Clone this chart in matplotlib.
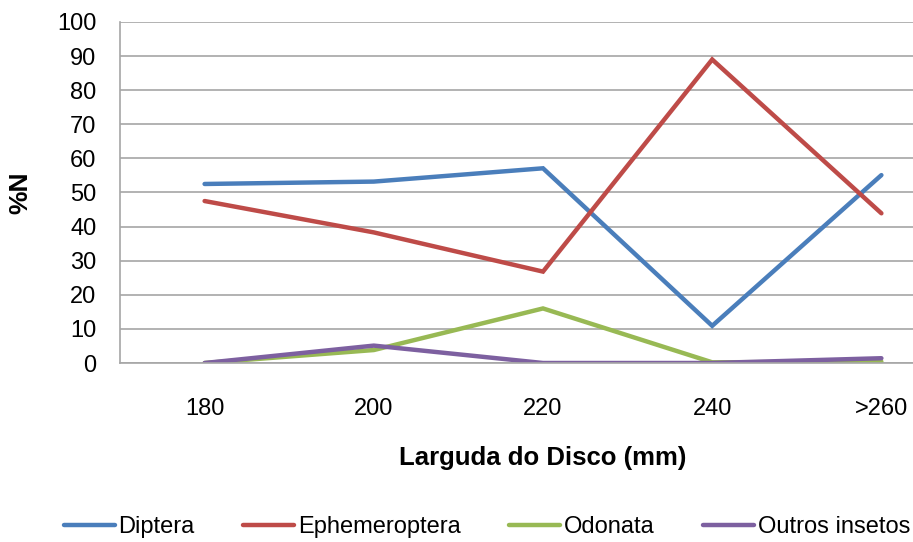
import numpy as np
import matplotlib.pyplot as plt

plt.rcParams['font.family'] = ['Liberation Sans', 'DejaVu Sans']

categorias = ['180', '200', '220', '240', '>260']
diptera = [52.5, 53.2, 57.1, 10.9, 55.1]
ephemeroptera = [47.5, 38.3, 26.8, 89.0, 43.9]
odonata = [0.0, 3.8, 16.0, 0.2, 0.4]
outros = [0.0, 5.1, 0.0, 0.0, 1.4]

series = [
    ('Diptera', diptera, '#4A7EBB'),
    ('Ephemeroptera', ephemeroptera, '#BE4B48'),
    ('Odonata', odonata, '#98B954'),
    ('Outros insetos', outros, '#7D60A0'),
]

fig = plt.figure(figsize=(9.13, 5.42), dpi=100)
# a área do gráfico passa da borda direita da figura
ax = fig.add_axes([120 / 913, 179 / 542, 846 / 913, 341 / 542])

x = np.arange(len(categorias))
for nome, valores, cor in series:
    ax.plot(x, valores, color=cor, linewidth=3.2, label=nome,
            solid_capstyle='round', solid_joinstyle='miter')

ax.set_xlim(-0.5, len(categorias) - 0.5)
ax.set_ylim(0, 100)
ax.set_yticks(np.arange(0, 101, 10))
ax.set_xticks(x)
ax.set_xticklabels(categorias)
ax.yaxis.grid(True, color='#A6A6A6', linewidth=1.2)
ax.set_axisbelow(True)

for lado in ['top', 'right']:
    ax.spines[lado].set_visible(False)
for lado in ['left', 'bottom']:
    ax.spines[lado].set_color('#A6A6A6')
    ax.spines[lado].set_linewidth(1.2)

ax.tick_params(axis='y', length=0, pad=17, labelsize=17, colors='#000000')
ax.tick_params(axis='x', length=0, pad=25, labelsize=17)

ax.set_ylabel('%N', fontsize=19, fontweight='bold')
ax.yaxis.set_label_coords(-0.103, 0.5)
fig.text(543 / 913, 1 - 458 / 542, 'Larguda do Disco (mm)', fontsize=18.5,
         fontweight='bold', ha='center', va='center')

fig.legend(loc='center', bbox_to_anchor=(487 / 913, 1 - 527 / 542), ncol=4,
           frameon=False, fontsize=17, handlelength=2.15, handletextpad=0.17,
           columnspacing=2.05, borderaxespad=0)

fig.savefig('out.png', dpi=100)
